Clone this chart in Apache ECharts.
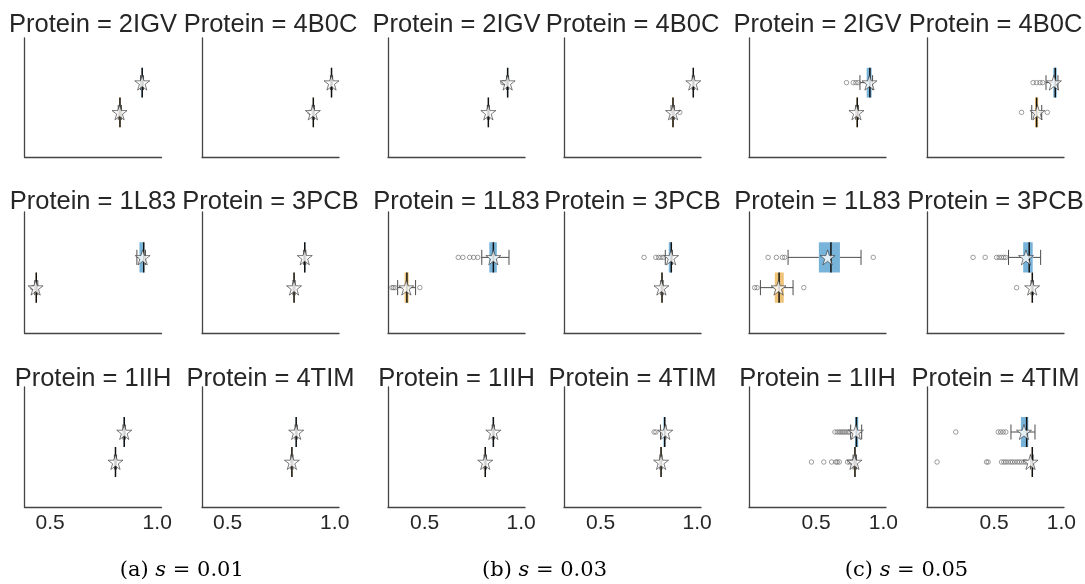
<!DOCTYPE html>
<html>
<head>
<meta charset="utf-8">
<script src="https://cdn.jsdelivr.net/npm/echarts@6/dist/echarts.min.js"></script>
<style>
html, body { margin: 0; padding: 0; background: #fff; }
#main { width: 1085px; height: 584px; }
</style>
</head>
<body>
<div id="main"></div>
<script>
// panels are ordered group by group, row by row: 2IGV, 4B0C, 1L83, 3PCB, 1IIH, 4TIM
var proteins = ['2IGV', '4B0C', '1L83', '3PCB', '1IIH', '4TIM'];
var captions = ['(a) ', '(b) ', '(c) '];
var sValues = ['0.01', '0.03', '0.05'];
var xTicks = [0.5, 1.0];
var xMin = [0.38, 0.31, 0.0];
var xMax = [1.02, 1.02, 1.02];

// [whisker low, q1, median, q3, whisker high]
var blueBox = [
    [0.922, 0.926, 0.930, 0.932, 0.936],
    [0.980, 0.983, 0.985, 0.987, 0.990],
    [0.905, 0.917, 0.937, 0.939, 0.945],
    [0.855, 0.858, 0.860, 0.862, 0.865],
    [0.840, 0.843, 0.846, 0.848, 0.851],
    [0.815, 0.818, 0.820, 0.822, 0.825],

    [0.925, 0.928, 0.930, 0.932, 0.935],
    [0.975, 0.978, 0.980, 0.982, 0.985],
    [0.796, 0.835, 0.856, 0.874, 0.937],
    [0.835, 0.853, 0.866, 0.870, 0.872],
    [0.850, 0.853, 0.856, 0.858, 0.861],
    [0.810, 0.825, 0.832, 0.835, 0.838],

    [0.826, 0.876, 0.900, 0.913, 0.920],
    [0.886, 0.940, 0.955, 0.966, 0.975],
    [0.291, 0.520, 0.610, 0.677, 0.834],
    [0.607, 0.716, 0.761, 0.787, 0.846],
    [0.757, 0.789, 0.800, 0.813, 0.839],
    [0.625, 0.699, 0.742, 0.754, 0.804]
];
var orangeBox = [
    [0.818, 0.822, 0.826, 0.829, 0.833],
    [0.895, 0.898, 0.900, 0.902, 0.905],
    [0.428, 0.432, 0.435, 0.438, 0.442],
    [0.805, 0.808, 0.810, 0.812, 0.815],
    [0.800, 0.803, 0.805, 0.807, 0.810],
    [0.795, 0.798, 0.800, 0.802, 0.805],

    [0.825, 0.828, 0.830, 0.832, 0.835],
    [0.865, 0.870, 0.875, 0.877, 0.882],
    [0.360, 0.396, 0.408, 0.417, 0.453],
    [0.812, 0.815, 0.818, 0.820, 0.824],
    [0.808, 0.811, 0.814, 0.816, 0.820],
    [0.807, 0.810, 0.813, 0.815, 0.818],

    [0.795, 0.800, 0.806, 0.810, 0.815],
    [0.780, 0.804, 0.816, 0.828, 0.854],
    [0.085, 0.192, 0.224, 0.259, 0.328],
    [0.775, 0.780, 0.784, 0.787, 0.792],
    [0.775, 0.783, 0.789, 0.792, 0.800],
    [0.770, 0.780, 0.784, 0.787, 0.790]
];
// means (star markers)
var blueMean = [0.930, 0.985, 0.932, 0.860, 0.846, 0.820,
                0.930, 0.980, 0.856, 0.865, 0.856, 0.835,
                0.897, 0.945, 0.585, 0.737, 0.796, 0.722];
var orangeMean = [0.824, 0.898, 0.432, 0.810, 0.805, 0.800,
                  0.830, 0.875, 0.405, 0.815, 0.814, 0.813,
                  0.800, 0.822, 0.220, 0.783, 0.785, 0.771];
// fliers
var blueOut = [
    [], [], [], [], [], [],
    [0.905, 0.912], [], [0.674, 0.698, 0.733, 0.754, 0.775], [0.725, 0.786, 0.800, 0.812, 0.825], [], [0.777, 0.786],
    [0.726, 0.776, 0.796, 0.813], [0.790, 0.816, 0.841, 0.861], [0.142, 0.204, 0.249, 0.266, 0.925],
    [0.343, 0.433, 0.518, 0.537, 0.555, 0.572, 0.587],
    [0.640, 0.657, 0.672, 0.684, 0.697, 0.709, 0.722, 0.737, 0.746],
    [0.214, 0.530, 0.548, 0.567, 0.587]
];
var orangeOut = [
    [], [0.885], [0.418, 0.424], [], [], [],
    [], [0.910], [0.330, 0.338, 0.347, 0.475], [], [], [],
    [], [0.704, 0.896], [0.042, 0.060, 0.408], [0.667],
    [0.465, 0.557, 0.615, 0.647, 0.657, 0.672, 0.734, 0.751, 0.764],
    [0.075, 0.443, 0.455, 0.555, 0.572, 0.587, 0.604, 0.622, 0.637, 0.654, 0.672, 0.687, 0.704, 0.722, 0.737]
];

var BLUE = '#78b4da', ORANGE = '#f0c478';
var gridLeft = [24.5, 202, 388, 564, 749, 927];
var rowTop = [38, 212, 387];
var rowH = [119, 121, 120];
var titleY = [25, 202, 379];
var starPath = 'path://M50 0L61.2 34.5L97.6 34.5L68.2 55.9L79.4 90.5L50 69.1L20.6 90.5L31.8 55.9L2.4 34.5L38.8 34.5Z';

function boxRenderer(fill) {
    return function (params, api) {
        var y = api.value(0);
        var p = [1, 2, 3, 4, 5].map(function (i) { return api.coord([api.value(i), y]); });
        var h = api.size([0, 1])[1];
        var cy = p[0][1];
        var cap = h / 4;
        var ws = { stroke: '#4d4d4d', lineWidth: 1 };
        function line(x1, y1, x2, y2, st) {
            return { type: 'line', shape: { x1: x1, y1: y1, x2: x2, y2: y2 }, style: st };
        }
        return {
            type: 'group',
            children: [
                line(p[0][0], cy, p[1][0], cy, ws),
                line(p[3][0], cy, p[4][0], cy, ws),
                line(p[0][0], cy - cap, p[0][0], cy + cap, ws),
                line(p[4][0], cy - cap, p[4][0], cy + cap, ws),
                { type: 'rect', shape: { x: p[1][0], y: cy - h / 2, width: Math.max(p[3][0] - p[1][0], 1), height: h }, style: { fill: fill } },
                line(p[2][0], cy - h / 2, p[2][0], cy + h / 2, { stroke: '#111', lineWidth: 1.5 })
            ]
        };
    };
}

var grids = [], xAxes = [], yAxes = [], series = [], graphics = [];

for (var g = 0; g < 3; g++) {
    for (var r = 0; r < 3; r++) {
        for (var c = 0; c < 2; c++) {
            var k = g * 6 + r * 2 + c;
            var left = gridLeft[g * 2 + c];
            grids.push({ left: left, top: rowTop[r], width: 137, height: rowH[r] });
            xAxes.push({
                gridIndex: k, type: 'value', min: xMin[g], max: xMax[g],
                axisLine: { onZero: false, lineStyle: { color: '#444', width: 1.3 } },
                axisTick: { show: false },
                splitLine: { show: false },
                axisLabel: {
                    show: r === 2, customValues: xTicks, margin: 6,
                    fontSize: 21, fontFamily: 'Liberation Sans', color: '#262626',
                    formatter: function (v) { return v.toFixed(1); }
                }
            });
            yAxes.push({
                gridIndex: k, type: 'value', min: 0, max: 4, inverse: true,
                axisLine: { show: true, onZero: false, lineStyle: { color: '#444', width: 1.3 } },
                axisTick: { show: false }, axisLabel: { show: false }, splitLine: { show: false }
            });
            series.push({
                type: 'custom', xAxisIndex: k, yAxisIndex: k, z: 2,
                renderItem: boxRenderer(BLUE), data: [[1.5].concat(blueBox[k])]
            });
            series.push({
                type: 'custom', xAxisIndex: k, yAxisIndex: k, z: 2,
                renderItem: boxRenderer(ORANGE), data: [[2.5].concat(orangeBox[k])]
            });
            var fl = blueOut[k].map(function (v) { return [v, 1.5]; })
                .concat(orangeOut[k].map(function (v) { return [v, 2.5]; }));
            series.push({
                type: 'scatter', xAxisIndex: k, yAxisIndex: k, z: 3, silent: true,
                symbol: 'circle', symbolSize: 4.5, data: fl,
                itemStyle: { color: 'rgba(255,255,255,0)', borderColor: '#666', borderWidth: 0.8 }
            });
            series.push({
                type: 'scatter', xAxisIndex: k, yAxisIndex: k, z: 4, silent: true,
                symbol: starPath, symbolSize: 15,
                data: [[blueMean[k], 1.5], [orangeMean[k], 2.5]],
                itemStyle: { color: '#fff', borderColor: '#333', borderWidth: 0.8 }
            });
            graphics.push({
                type: 'text', x: left + 68.5, y: titleY[r],
                style: {
                    text: 'Protein = ' + proteins[r * 2 + c],
                    font: '25.5px "Liberation Sans"', fill: '#262626',
                    align: 'center', verticalAlign: 'middle',
                    textAlign: 'center', textVerticalAlign: 'middle'
                }
            });
        }
    }
    var cx = (gridLeft[g * 2] + gridLeft[g * 2 + 1] + 137) / 2;
    graphics.push({
        type: 'text', x: cx, y: 571,
        style: {
            text: '{n|' + captions[g] + '}{i|s}{n| = ' + sValues[g] + '}',
            align: 'center', verticalAlign: 'middle',
            textAlign: 'center', textVerticalAlign: 'middle',
            rich: {
                n: { fontFamily: 'DejaVu Serif', fontSize: 21, color: '#111' },
                i: { fontFamily: 'DejaVu Serif', fontSize: 21, fontStyle: 'italic', color: '#111' }
            }
        }
    });
}

var myChart = echarts.init(document.getElementById('main'));
myChart.setOption({
    backgroundColor: '#fff',
    animation: false,
    grid: grids,
    xAxis: xAxes,
    yAxis: yAxes,
    series: series,
    graphic: graphics
});
</script>
</body>
</html>
